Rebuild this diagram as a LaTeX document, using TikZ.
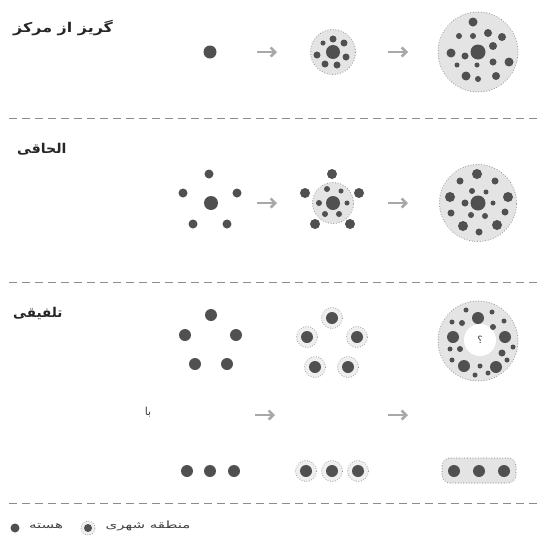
\documentclass[tikz,border=0pt]{standalone}
\usepackage{fontspec}
\newfontfamily\arabicfont[Script=Arabic]{DejaVu Sans}
\TeXXeTstate=1
\usetikzlibrary{arrows.meta}
\definecolor{dotc}{HTML}{505050}
\definecolor{areac}{HTML}{E4E4E4}
\definecolor{rimc}{HTML}{9A9A9A}
\definecolor{arrc}{HTML}{A8A8A8}
\definecolor{sepc}{HTML}{8C8C8C}
\tikzset{
  core/.style={fill=dotc},
  area/.style={fill=areac, draw=rimc, line width=1.1pt, dash pattern=on 0.1pt off 2.6pt, line cap=round},
  ring/.style={draw=rimc, line width=1pt, dash pattern=on 0.1pt off 2.4pt, line cap=round},
  hole/.style={fill=white},
  sep/.style={draw=sepc, line width=0.8pt, dash pattern=on 8pt off 5pt},
  go/.style={draw=arrc, line width=2.6pt, -{Straight Barb[length=4.5pt,width=9pt,line width=2.6pt]}},
  title/.style={font=\arabicfont\bfseries\fontsize{13.5}{15}\selectfont, text=black!85, anchor=west, inner sep=0pt},
  small/.style={font=\arabicfont\fontsize{10}{11}\selectfont, text=black!75, inner sep=0pt},
}
\newcommand{\mydot}[3]{\fill[core] (#1,#2) circle (#3pt);}
\begin{document}
\begin{tikzpicture}[x=1pt,y=-1pt]
\useasboundingbox (0,0) rectangle (539,536);

% ---------------- separators
\coordinate (s1a) at (9,118); \coordinate (s1b) at (539,118);
\coordinate (s2a) at (9,282); \coordinate (s2b) at (539,282);
\coordinate (s3a) at (9,503); \coordinate (s3b) at (539,503);
\draw[sep] (s1a) -- (s1b);
\draw[sep] (s2a) -- (s2b);
\draw[sep] (s3a) -- (s3b);

% ---------------- titles
\node[title] (t1) at (13,28) {\scalebox{1.18}[1]{\beginR گریز از مرکز\endR}};
\node[title] (t2) at (17,149) {\scalebox{1.05}[1]{\beginR الحاقی\endR}};
\node[title] (t3) at (13,313) {\beginR تلفیقی\endR};

% ================= row 1
\mydot{210}{52}{6.5}
\coordinate (a1s) at (257,52); \coordinate (a1e) at (277,52);
\draw[go] (a1s) -- (a1e);
\draw[area] (333,52) circle (22.5pt);
\mydot{333}{52}{7}
\mydot{333}{39}{3.5}
\mydot{344}{43}{3.5}
\mydot{323}{43}{2.5}
\mydot{317}{55}{3.5}
\mydot{346}{57}{3.5}
\mydot{325}{64}{3.5}
\mydot{337}{65}{3.5}
\coordinate (a2s) at (388,52); \coordinate (a2e) at (408,52);
\draw[go] (a2s) -- (a2e);
\draw[area] (478,52) circle (40pt);
\mydot{478}{52}{7.5}
\mydot{473}{22}{4.5}
\mydot{459}{36}{3}
\mydot{473}{36}{3}
\mydot{488}{33}{4}
\mydot{502}{37}{4}
\mydot{451}{53}{4.5}
\mydot{465}{56}{3.5}
\mydot{493}{46}{4}
\mydot{509}{62}{4.5}
\mydot{457}{65}{2.5}
\mydot{477}{65}{2.5}
\mydot{493}{62}{3.5}
\mydot{466}{76}{4.5}
\mydot{478}{79}{3}
\mydot{496}{76}{4}

% ================= row 2
\mydot{211}{203}{7}
\mydot{209}{174}{4.5}
\mydot{183}{193}{4.5}
\mydot{237}{193}{4.5}
\mydot{193}{224}{4.5}
\mydot{227}{224}{4.5}
\coordinate (b1s) at (257,203); \coordinate (b1e) at (277,203);
\draw[go] (b1s) -- (b1e);
\draw[area] (333,203) circle (20.5pt);
\mydot{333}{203}{7}
\mydot{327}{189}{3}
\mydot{341}{191}{2.5}
\mydot{319}{203}{3}
\mydot{347}{203}{2.5}
\mydot{325}{214}{3}
\mydot{339}{214}{3}
\mydot{332}{174}{5}
\mydot{305}{193}{5}
\mydot{359}{193}{5}
\mydot{315}{224}{5}
\mydot{350}{224}{5}
\coordinate (b2s) at (388,203); \coordinate (b2e) at (408,203);
\draw[go] (b2s) -- (b2e);
\draw[area] (478,203) circle (38.5pt);
\mydot{478}{203}{7.5}
\mydot{477}{174}{5}
\mydot{460}{181}{3.5}
\mydot{495}{181}{3.5}
\mydot{472}{191}{3}
\mydot{486}{192}{2.5}
\mydot{450}{197}{5}
\mydot{508}{197}{5}
\mydot{465}{203}{3.5}
\mydot{493}{203}{2.5}
\mydot{451}{213}{3.5}
\mydot{505}{212}{3.5}
\mydot{471}{215}{3}
\mydot{485}{216}{3}
\mydot{463}{226}{5}
\mydot{497}{225}{5}
\mydot{479}{232}{3.5}

% ================= row 3
\mydot{211}{315}{6}
\mydot{185}{335}{6}
\mydot{236}{335}{6}
\mydot{195}{364}{6}
\mydot{227}{364}{6}

\fill[areac!60] (332,318) circle (10.5pt); \draw[ring] (332,318) circle (10.5pt);
\fill[areac!60] (307,337) circle (10.5pt); \draw[ring] (307,337) circle (10.5pt);
\fill[areac!60] (357,337) circle (10.5pt); \draw[ring] (357,337) circle (10.5pt);
\fill[areac!60] (315,367) circle (10.5pt); \draw[ring] (315,367) circle (10.5pt);
\fill[areac!60] (348,367) circle (10.5pt); \draw[ring] (348,367) circle (10.5pt);
\mydot{332}{318}{6}
\mydot{307}{337}{6}
\mydot{357}{337}{6}
\mydot{315}{367}{6}
\mydot{348}{367}{6}

\draw[area] (478,341) circle (40pt);
\fill[hole] (480,340) circle (16pt);
\node[small] (q) at (480,340) {\beginR ؟\endR};
\mydot{478}{318}{6}
\mydot{453}{337}{6}
\mydot{505}{337}{6}
\mydot{464}{366}{6}
\mydot{496}{367}{6}
\mydot{466}{310}{2.5}
\mydot{492}{312}{2.5}
\mydot{452}{322}{2.5}
\mydot{462}{323}{3}
\mydot{493}{327}{3}
\mydot{504}{321}{2.5}
\mydot{450}{349}{2.5}
\mydot{460}{349}{3}
\mydot{502}{353}{3.5}
\mydot{513}{347}{2.5}
\mydot{452}{360}{2.5}
\mydot{507}{360}{2.5}
\mydot{480}{366}{2.5}
\mydot{475}{375}{2.5}
\mydot{488}{373}{2.5}

\node[small, font=\arabicfont\fontsize{11}{12}\selectfont] (ba) at (148,412) {\beginR با\endR};
\coordinate (c1s) at (255,415); \coordinate (c1e) at (275,415);
\draw[go] (c1s) -- (c1e);
\coordinate (c2s) at (388,415); \coordinate (c2e) at (408,415);
\draw[go] (c2s) -- (c2e);

\mydot{187}{471}{6}
\mydot{210}{471}{6}
\mydot{234}{471}{6}

\fill[areac!60] (306,471) circle (10.5pt); \draw[ring] (306,471) circle (10.5pt);
\fill[areac!60] (332,471) circle (10.5pt); \draw[ring] (332,471) circle (10.5pt);
\fill[areac!60] (358,471) circle (10.5pt); \draw[ring] (358,471) circle (10.5pt);
\mydot{306}{471}{6}
\mydot{332}{471}{6}
\mydot{358}{471}{6}

\draw[area, rounded corners=8pt] (442,458) rectangle (516,483);
\mydot{454}{471}{6}
\mydot{479}{471}{6}
\mydot{504}{471}{6}

% ================= legend
\mydot{15}{528}{4.5}
\node[small] (lcore) at (46,526) {\scalebox{1.5}[1]{\beginR هسته\endR}};
\fill[areac!60] (88,528) circle (7pt); \draw[ring] (88,528) circle (7pt);
\mydot{88}{528}{4}
\node[small] (lurban) at (148,526) {\scalebox{1.5}[1]{\beginR منطقه شهری\endR}};
\end{tikzpicture}
\end{document}
